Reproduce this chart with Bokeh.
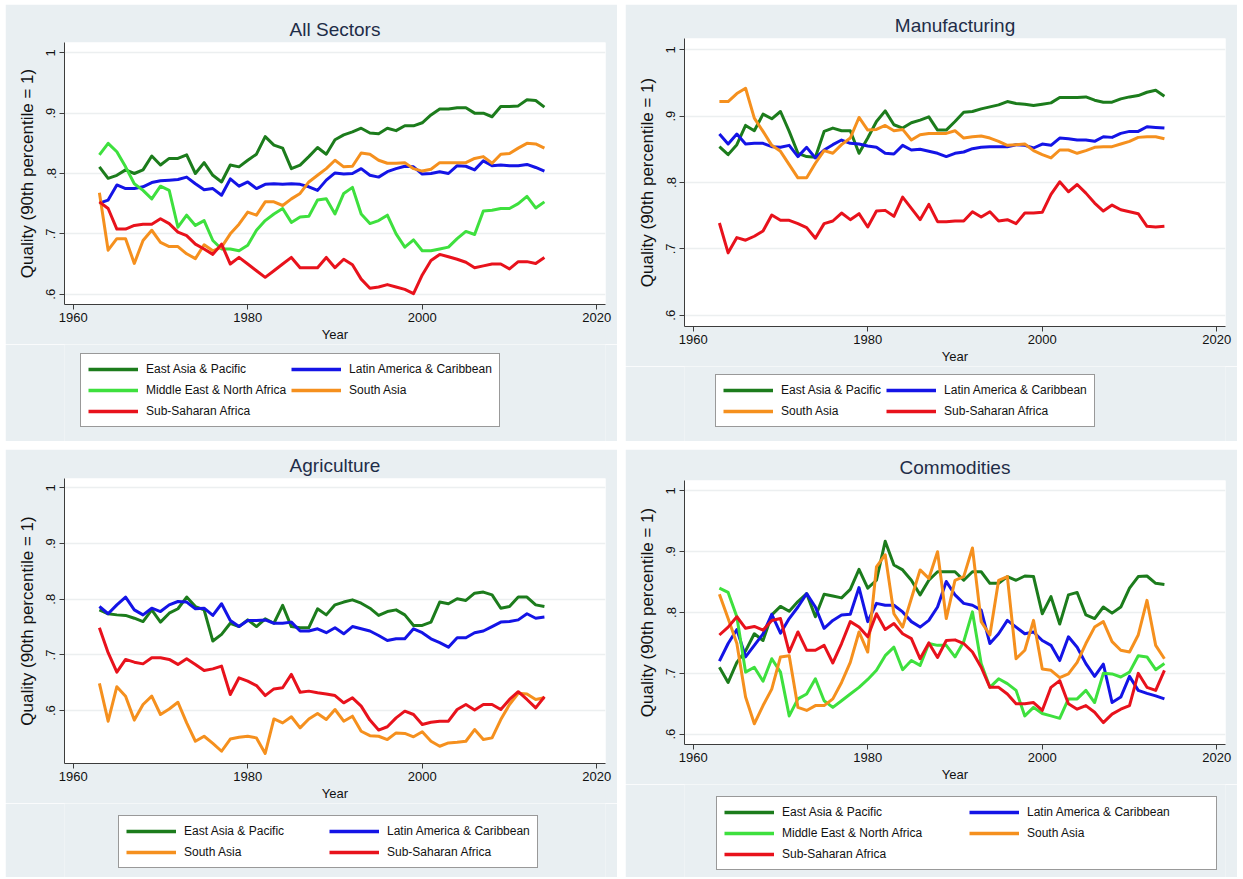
from bokeh.plotting import figure
from bokeh.models import Range1d, FixedTicker, CustomJSTickFormatter, Legend, LegendItem
from bokeh.layouts import row, column
from bokeh.embed import file_html
from bokeh.resources import INLINE

years = list(range(1963, 2015))

EAP = "East Asia & Pacific"
LAC = "Latin America & Caribbean"
MENA = "Middle East & North Africa"
SAS = "South Asia"
SSA = "Sub-Saharan Africa"

colors = {EAP: "#1c7c1c", LAC: "#1414e6", MENA: "#3ee03e", SAS: "#f5901e", SSA: "#e8121c"}

# --- All Sectors
all_eap = [0.811, 0.792, 0.797, 0.806, 0.800, 0.806, 0.829, 0.814, 0.825, 0.825,
           0.831, 0.800, 0.818, 0.797, 0.786, 0.814, 0.811, 0.822, 0.832, 0.861,
           0.847, 0.842, 0.808, 0.814, 0.828, 0.843, 0.832, 0.856, 0.864, 0.869,
           0.875, 0.867, 0.866, 0.875, 0.871, 0.879, 0.879, 0.884, 0.897, 0.907,
           0.907, 0.909, 0.909, 0.900, 0.900, 0.894, 0.911, 0.911, 0.912, 0.922,
           0.921, 0.910]
all_lac = [0.751, 0.756, 0.781, 0.775, 0.775, 0.778, 0.785, 0.788, 0.789, 0.790,
           0.794, 0.783, 0.773, 0.775, 0.764, 0.791, 0.779, 0.786, 0.775, 0.782,
           0.783, 0.782, 0.783, 0.782, 0.778, 0.772, 0.789, 0.801, 0.799, 0.800,
           0.808, 0.797, 0.794, 0.803, 0.808, 0.812, 0.811, 0.799, 0.800, 0.803,
           0.800, 0.813, 0.812, 0.806, 0.821, 0.813, 0.814, 0.813, 0.813, 0.815,
           0.810, 0.804]
all_mena = [0.831, 0.850, 0.836, 0.811, 0.783, 0.772, 0.758, 0.779, 0.772, 0.711,
            0.731, 0.714, 0.722, 0.689, 0.675, 0.675, 0.672, 0.681, 0.706, 0.722,
            0.733, 0.742, 0.719, 0.728, 0.729, 0.756, 0.758, 0.733, 0.767, 0.777,
            0.733, 0.717, 0.722, 0.731, 0.700, 0.678, 0.690, 0.672, 0.672, 0.675,
            0.678, 0.692, 0.704, 0.699, 0.738, 0.739, 0.742, 0.742, 0.750, 0.762,
            0.743, 0.753]
all_sas = [0.768, 0.673, 0.692, 0.692, 0.651, 0.689, 0.706, 0.686, 0.679, 0.679,
           0.667, 0.659, 0.682, 0.672, 0.678, 0.700, 0.716, 0.736, 0.731, 0.753,
           0.753, 0.747, 0.758, 0.767, 0.786, 0.797, 0.808, 0.822, 0.811, 0.812,
           0.834, 0.832, 0.822, 0.817, 0.817, 0.818, 0.808, 0.804, 0.807, 0.818,
           0.818, 0.818, 0.818, 0.825, 0.828, 0.817, 0.832, 0.833, 0.842, 0.850,
           0.849, 0.842]
all_ssa = [0.753, 0.742, 0.708, 0.708, 0.714, 0.716, 0.716, 0.725, 0.717, 0.703,
           0.697, 0.683, 0.675, 0.666, 0.683, 0.650, 0.661, 0.650, 0.639, 0.628,
           0.639, 0.650, 0.661, 0.644, 0.644, 0.644, 0.661, 0.644, 0.658, 0.649,
           0.625, 0.610, 0.612, 0.616, 0.612, 0.608, 0.601, 0.632, 0.656, 0.666,
           0.662, 0.658, 0.653, 0.644, 0.647, 0.650, 0.650, 0.642, 0.654, 0.654,
           0.651, 0.661]

# --- Manufacturing
man_eap = [0.854, 0.842, 0.857, 0.886, 0.878, 0.903, 0.896, 0.907, 0.877, 0.844,
           0.839, 0.838, 0.877, 0.882, 0.878, 0.878, 0.844, 0.867, 0.892, 0.908,
           0.887, 0.882, 0.890, 0.894, 0.899, 0.879, 0.879, 0.892, 0.906, 0.907,
           0.911, 0.914, 0.917, 0.922, 0.919, 0.918, 0.916, 0.918, 0.920, 0.928,
           0.928, 0.928, 0.929, 0.924, 0.921, 0.921, 0.926, 0.929, 0.931, 0.936,
           0.939, 0.930]
man_lac = [0.873, 0.858, 0.873, 0.858, 0.859, 0.859, 0.854, 0.853, 0.856, 0.839,
           0.853, 0.837, 0.849, 0.857, 0.864, 0.859, 0.858, 0.855, 0.853, 0.844,
           0.843, 0.856, 0.849, 0.850, 0.847, 0.844, 0.839, 0.844, 0.846, 0.851,
           0.853, 0.854, 0.854, 0.854, 0.857, 0.856, 0.852, 0.858, 0.856, 0.867,
           0.866, 0.864, 0.864, 0.862, 0.869, 0.868, 0.874, 0.877, 0.877, 0.884,
           0.883, 0.882]
man_sas = [0.922, 0.922, 0.934, 0.942, 0.897, 0.877, 0.856, 0.847, 0.827, 0.807,
           0.807, 0.829, 0.848, 0.844, 0.857, 0.867, 0.898, 0.879, 0.880, 0.886,
           0.878, 0.880, 0.864, 0.872, 0.874, 0.874, 0.874, 0.878, 0.867, 0.869,
           0.870, 0.867, 0.862, 0.856, 0.857, 0.858, 0.848, 0.842, 0.837, 0.849,
           0.849, 0.844, 0.848, 0.853, 0.854, 0.854, 0.858, 0.862, 0.868, 0.869,
           0.869, 0.866]
man_ssa = [0.739, 0.694, 0.717, 0.713, 0.719, 0.727, 0.751, 0.743, 0.743, 0.738,
           0.732, 0.716, 0.738, 0.742, 0.754, 0.744, 0.753, 0.733, 0.757, 0.758,
           0.749, 0.778, 0.761, 0.744, 0.767, 0.741, 0.741, 0.742, 0.742, 0.756,
           0.748, 0.756, 0.742, 0.744, 0.738, 0.754, 0.754, 0.755, 0.782, 0.801,
           0.786, 0.797, 0.784, 0.769, 0.757, 0.766, 0.759, 0.756, 0.753, 0.734,
           0.733, 0.734]

# --- Agriculture
agr_eap = [0.781, 0.774, 0.772, 0.771, 0.766, 0.760, 0.781, 0.759, 0.775, 0.783,
           0.804, 0.787, 0.781, 0.725, 0.737, 0.757, 0.751, 0.763, 0.751, 0.765,
           0.757, 0.789, 0.751, 0.749, 0.749, 0.783, 0.772, 0.790, 0.795, 0.799,
           0.793, 0.784, 0.771, 0.778, 0.781, 0.772, 0.753, 0.753, 0.759, 0.795,
           0.792, 0.801, 0.798, 0.811, 0.813, 0.808, 0.784, 0.787, 0.804, 0.804,
           0.790, 0.787]
agr_lac = [0.787, 0.774, 0.790, 0.804, 0.781, 0.772, 0.784, 0.778, 0.790, 0.796,
           0.795, 0.783, 0.784, 0.771, 0.792, 0.762, 0.751, 0.762, 0.762, 0.763,
           0.757, 0.757, 0.759, 0.743, 0.743, 0.747, 0.740, 0.749, 0.738, 0.751,
           0.747, 0.743, 0.735, 0.726, 0.729, 0.729, 0.747, 0.740, 0.729, 0.722,
           0.714, 0.731, 0.731, 0.740, 0.743, 0.751, 0.759, 0.760, 0.763, 0.774,
           0.766, 0.768]
agr_sas = [0.649, 0.581, 0.643, 0.626, 0.583, 0.611, 0.626, 0.593, 0.603, 0.615,
           0.578, 0.545, 0.554, 0.541, 0.527, 0.549, 0.552, 0.554, 0.551, 0.523,
           0.585, 0.578, 0.589, 0.569, 0.585, 0.595, 0.584, 0.602, 0.581, 0.590,
           0.563, 0.555, 0.554, 0.548, 0.560, 0.559, 0.553, 0.562, 0.545, 0.536,
           0.542, 0.543, 0.545, 0.566, 0.548, 0.551, 0.584, 0.611, 0.631, 0.630,
           0.620, 0.623]
agr_ssa = [0.749, 0.704, 0.669, 0.692, 0.687, 0.684, 0.695, 0.695, 0.692, 0.683,
           0.693, 0.683, 0.672, 0.675, 0.680, 0.629, 0.659, 0.653, 0.645, 0.627,
           0.639, 0.641, 0.665, 0.633, 0.635, 0.632, 0.630, 0.627, 0.614, 0.623,
           0.608, 0.583, 0.565, 0.571, 0.587, 0.599, 0.593, 0.575, 0.579, 0.581,
           0.581, 0.602, 0.611, 0.601, 0.611, 0.611, 0.602, 0.620, 0.634, 0.620,
           0.605, 0.625]

# --- Commodities
com_eap = [0.710, 0.685, 0.718, 0.737, 0.765, 0.754, 0.796, 0.810, 0.802, 0.818,
           0.831, 0.793, 0.830, 0.827, 0.824, 0.838, 0.871, 0.840, 0.853, 0.917,
           0.878, 0.870, 0.853, 0.829, 0.853, 0.867, 0.867, 0.867, 0.853, 0.867,
           0.867, 0.848, 0.848, 0.859, 0.853, 0.860, 0.859, 0.798, 0.826, 0.781,
           0.829, 0.833, 0.796, 0.790, 0.809, 0.799, 0.809, 0.840, 0.859, 0.860,
           0.848, 0.846]
com_lac = [0.720, 0.749, 0.772, 0.727, 0.746, 0.765, 0.797, 0.766, 0.790, 0.809,
           0.831, 0.809, 0.774, 0.787, 0.796, 0.797, 0.841, 0.785, 0.815, 0.812,
           0.812, 0.801, 0.785, 0.776, 0.787, 0.809, 0.851, 0.829, 0.815, 0.812,
           0.804, 0.749, 0.765, 0.787, 0.776, 0.765, 0.768, 0.754, 0.746, 0.721,
           0.760, 0.743, 0.716, 0.695, 0.715, 0.652, 0.661, 0.695, 0.672, 0.667,
           0.663, 0.658]
com_mena = [0.840, 0.833, 0.793, 0.702, 0.710, 0.687, 0.724, 0.702, 0.630, 0.658,
            0.666, 0.691, 0.655, 0.644, 0.655, 0.666, 0.677, 0.690, 0.705, 0.729,
            0.743, 0.706, 0.721, 0.713, 0.749, 0.746, 0.746, 0.727, 0.752, 0.801,
            0.716, 0.677, 0.691, 0.683, 0.672, 0.630, 0.644, 0.634, 0.630, 0.626,
            0.658, 0.658, 0.672, 0.652, 0.700, 0.699, 0.694, 0.702, 0.729, 0.727,
            0.706, 0.716]
com_sas = [0.830, 0.790, 0.749, 0.661, 0.617, 0.647, 0.674, 0.727, 0.729, 0.644,
           0.639, 0.647, 0.647, 0.658, 0.685, 0.718, 0.768, 0.735, 0.875, 0.895,
           0.798, 0.776, 0.823, 0.870, 0.856, 0.900, 0.790, 0.853, 0.859, 0.906,
           0.785, 0.763, 0.853, 0.859, 0.724, 0.738, 0.787, 0.707, 0.705, 0.693,
           0.699, 0.718, 0.749, 0.776, 0.785, 0.752, 0.738, 0.735, 0.763, 0.820,
           0.746, 0.724]
com_ssa = [0.763, 0.776, 0.793, 0.774, 0.777, 0.771, 0.787, 0.790, 0.735, 0.768,
           0.738, 0.738, 0.746, 0.717, 0.749, 0.785, 0.776, 0.760, 0.798, 0.772,
           0.782, 0.765, 0.757, 0.724, 0.750, 0.726, 0.754, 0.755, 0.749, 0.735,
           0.710, 0.677, 0.677, 0.666, 0.650, 0.650, 0.652, 0.639, 0.677, 0.688,
           0.650, 0.641, 0.647, 0.636, 0.619, 0.633, 0.641, 0.647, 0.700, 0.677,
           0.672, 0.705]

BG = "#e9eff2"
FONT = "Liberation Sans"
W = 612


def chart(title, series, h, top, y0):
    p = figure(width=W, height=h, title=title, output_backend="svg", toolbar_location=None,
               x_range=Range1d(1959, 2021), y_range=Range1d(y0, 1.017))
    p.border_fill_color = BG
    p.background_fill_color = "white"
    p.outline_line_color = None
    p.min_border_left = 59
    p.min_border_right = 12
    p.min_border_top = top
    p.min_border_bottom = 4

    p.title.align = "center"
    p.title.text_font = FONT
    p.title.text_font_size = "19px"
    p.title.text_font_style = "normal"
    p.title.text_color = "#1f2d48"
    p.title.standoff = 6

    p.xgrid.visible = False
    p.ygrid.grid_line_color = "#eceff0"
    p.ygrid.grid_line_width = 1.5

    for ax in (p.xaxis[0], p.yaxis[0]):
        ax.axis_line_color = "#3c3c3c"
        ax.major_tick_line_color = "#3c3c3c"
        ax.major_tick_out = 5
        ax.major_tick_in = 0
        ax.minor_tick_line_color = None
        ax.major_label_text_font = FONT
        ax.major_label_text_font_size = "13px"
        ax.major_label_text_color = "#111111"
        ax.axis_label_text_font = FONT
        ax.axis_label_text_font_style = "normal"
        ax.axis_label_text_color = "#111111"

    p.xaxis.ticker = FixedTicker(ticks=[1960, 1980, 2000, 2020])
    p.xaxis.axis_label = "Year"
    p.xaxis.axis_label_text_font_size = "13px"
    p.xaxis.axis_label_standoff = 2
    p.xaxis.major_label_standoff = 3

    p.yaxis.ticker = FixedTicker(ticks=[0.6, 0.7, 0.8, 0.9, 1.0])
    p.yaxis.formatter = CustomJSTickFormatter(
        code="return tick > 0.99 ? '1' : tick.toFixed(1).replace(/^0/, '');")
    p.yaxis.major_label_orientation = "vertical"
    p.yaxis.axis_label = "Quality (90th percentile = 1)"
    p.yaxis.axis_label_text_font_size = "17px"
    p.yaxis.axis_label_standoff = 7
    p.yaxis.major_label_standoff = 4

    for name, vals in series:
        p.line(years, vals, line_color=colors[name], line_width=3, line_join="round")
    return p


def legend_box(series, h, x, y, label_w):
    # the legend gets its own strip under the chart (side-panel legends misbehave here)
    lf = figure(width=W, height=h, output_backend="svg", toolbar_location=None,
                x_range=Range1d(0, 1), y_range=Range1d(0, 1),
                x_axis_type=None, y_axis_type=None)
    lf.border_fill_color = BG
    lf.background_fill_color = BG
    lf.outline_line_color = None
    lf.min_border = 0
    lf.min_border_left = 59
    lf.min_border_right = 12
    items = []
    for name, _ in series:
        # swatch renderer kept outside the visible range, only the legend shows it
        r = lf.line(x=[-3, -2], y=[-3, -3], line_color=colors[name], line_width=3.5)
        items.append(LegendItem(label=name, renderers=[r]))
    leg = Legend(items=items, orientation="horizontal", ncols=2, location=(x, y))
    leg.label_text_font = FONT
    leg.label_text_font_size = "12px"
    leg.label_text_color = "#111111"
    leg.label_width = label_w
    leg.label_height = 16
    leg.glyph_width = 50
    leg.glyph_height = 16
    leg.label_standoff = 8
    leg.spacing = 5
    leg.padding = 7
    leg.margin = 0
    leg.border_line_color = "#333333"
    leg.border_line_width = 1
    leg.background_fill_color = "white"
    leg.background_fill_alpha = 1
    lf.add_layout(leg, "center")
    return lf


def panel(title, series, h, leg_h, top, y0, leg_x, leg_y, label_w):
    return column(chart(title, series, h - leg_h, top, y0),
                  legend_box(series, leg_h, leg_x, leg_y, label_w), spacing=0)


s1 = [(EAP, all_eap), (LAC, all_lac), (MENA, all_mena), (SAS, all_sas), (SSA, all_ssa)]
s2 = [(EAP, man_eap), (LAC, man_lac), (SAS, man_sas), (SSA, man_ssa)]
s3 = [(EAP, agr_eap), (LAC, agr_lac), (SAS, agr_sas), (SSA, agr_ssa)]
s4 = [(EAP, com_eap), (LAC, com_lac), (MENA, com_mena), (SAS, com_sas), (SSA, com_ssa)]

p1 = panel("All Sectors", s1, 437, 97, 38, 0.583, 16, 14, 20)
p2 = panel("Manufacturing", s2, 437, 75, 34, 0.583, 31, 14, 20)
p3 = panel("Agriculture", s3, 428, 74, 28, 0.505, 54, 9, 140)
p4 = panel("Commodities", s4, 428, 93, 31, 0.583, 32, 7, 182)

layout = column(row(p1, p2, spacing=8), row(p3, p4, spacing=8), spacing=8,
                margin=(4, 0, 0, 5))

open("out.html", "w").write(file_html(layout, INLINE))
